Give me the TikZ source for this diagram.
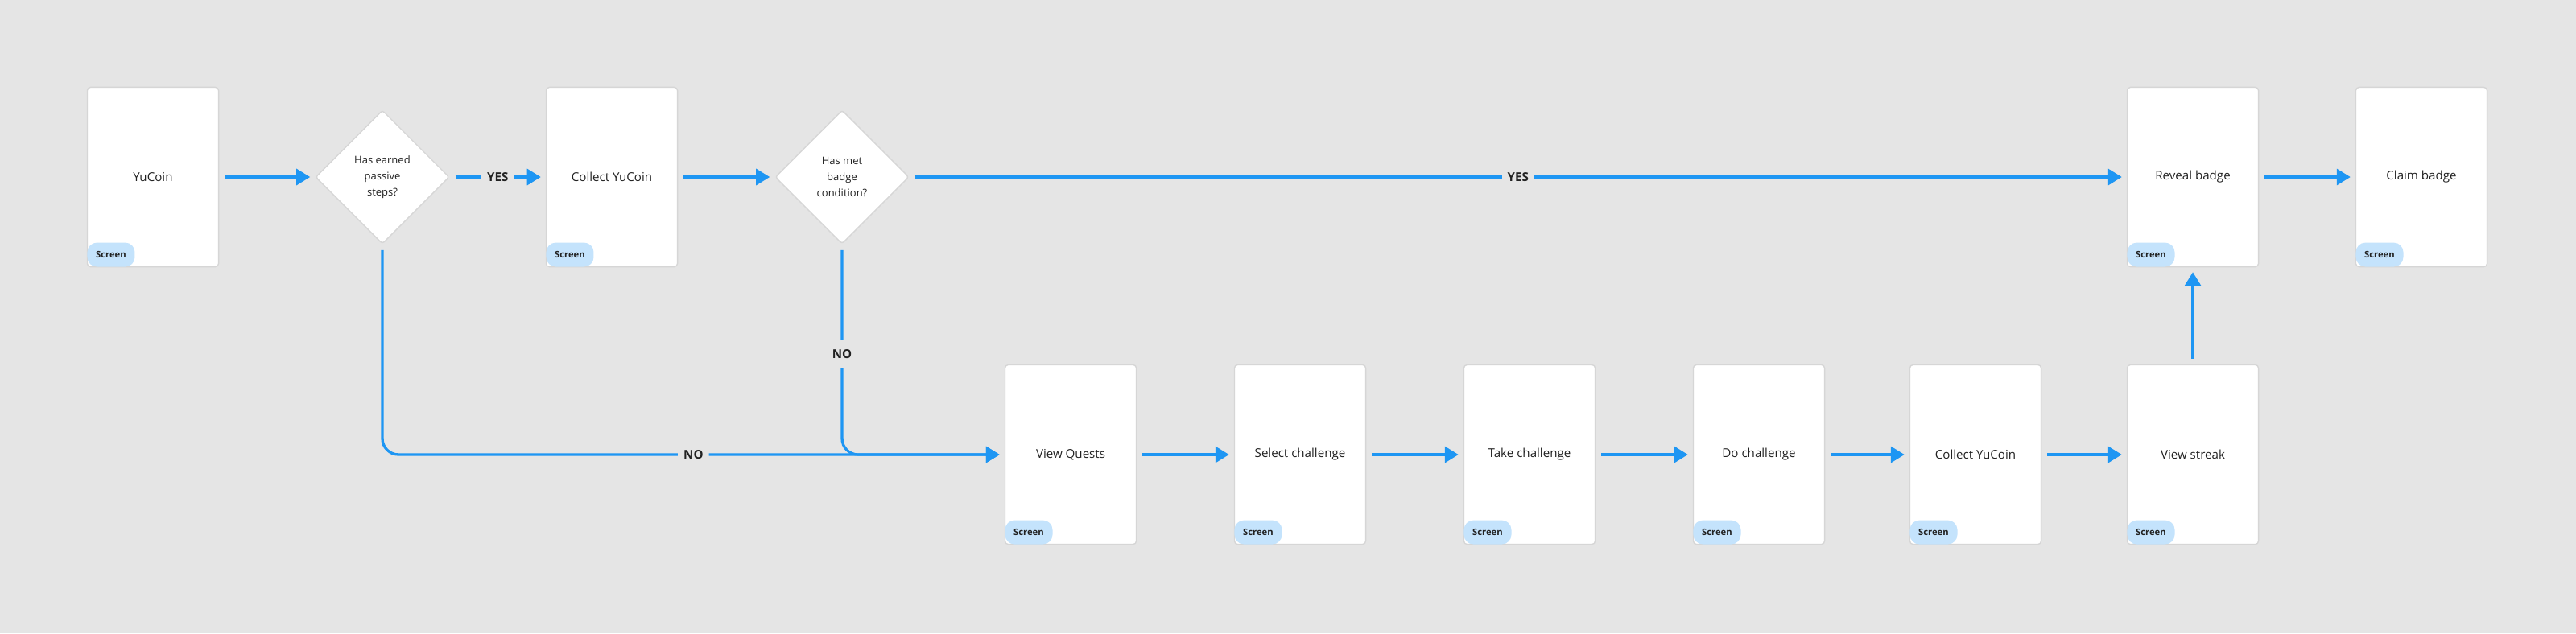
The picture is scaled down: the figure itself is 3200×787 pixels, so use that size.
\documentclass[tikz,border=0pt]{standalone}
\usepackage{fontspec}
\setmainfont{Open Sans}
\usepackage{xcolor}
\usetikzlibrary{positioning, shapes.geometric, arrows.meta}
\definecolor{canvas}{HTML}{E5E5E5}
\definecolor{flow}{HTML}{1E96F3}
\definecolor{tag}{HTML}{C4E3FC}
\definecolor{edge}{HTML}{D6D6D6}
\definecolor{ink}{HTML}{222222}

\begin{document}
\begin{tikzpicture}[x=0.01cm, y=-0.01cm,
          screen/.style={rectangle, draw=edge, fill=white, rounded corners=0.04cm, minimum width=1.63cm, minimum height=2.23cm, text=ink, font=\fontsize{4.3}{5.2}\selectfont},
          choice/.style={diamond, draw=edge, fill=white, rounded corners=0.03cm, minimum width=1.66cm, minimum height=1.66cm, inner sep=0pt, align=center, text=ink, font=\fontsize{3.7}{5.7}\selectfont},
          tagbox/.style={rectangle, fill=tag, rounded corners=0.12cm, minimum width=0.59cm, minimum height=0.3cm, inner sep=0pt, anchor=south west, text=ink, font=\fontsize{3.2}{3.8}\selectfont\bfseries},
          link/.style={flow, line width=0.033cm, -{Triangle[length=0.17cm, width=0.2cm]}, shorten <=0.07cm, shorten >=0.06cm},
          lbl/.style={fill=canvas, inner xsep=0.07cm, inner ysep=0.12cm, text=ink, font=\fontsize{4.3}{5.2}\selectfont\bfseries}]
          \fill[canvas] (0,0) rectangle (3200,787);

          \node[screen] (yucoin) at (190,220) {YuCoin};
          \node[choice] (d1) at (475,220) {Has earned\\passive\\steps?};
          \node[screen] (collecta) at (760,220) {Collect YuCoin};
          \node[choice] (d2) at (1046,220) {Has met\\badge\\condition?};
          \node[screen] (reveal) at (2724,220) {Reveal badge};
          \node[screen] (claim) at (3008,220) {Claim badge};

          \node[screen] (quests) at (1330,565) {View Quests};
          \node[screen] (select) at (1615,565) {Select challenge};
          \node[screen] (take) at (1900,565) {Take challenge};
          \node[screen] (dochal) at (2185,565) {Do challenge};
          \node[screen] (collectb) at (2454,565) {Collect YuCoin};
          \node[screen] (streak) at (2724,565) {View streak};

          \foreach \s in {yucoin, collecta, reveal, claim, quests, select, take, dochal, collectb, streak}
            \node[tagbox] (tag-\s) at (\s.south west) {Screen};

          \draw[link] (yucoin) -- (d1);
          \draw[link] (d1) -- (collecta) node[midway, lbl] {YES};
          \draw[link] (collecta) -- (d2);
          \draw[link] (d2) -- (reveal) node[midway, lbl] {YES};
          \draw[link] (reveal) -- (claim);
          \draw[link] (streak) -- (reveal);

          \draw[link, rounded corners=0.2cm] (d1.south) |- (quests.west) node[pos=0.75, lbl] {NO};
          \draw[link, rounded corners=0.2cm] (d2.south) |- (quests.west) node[pos=0.26, lbl] {NO};

          \draw[link] (quests) -- (select);
          \draw[link] (select) -- (take);
          \draw[link] (take) -- (dochal);
          \draw[link] (dochal) -- (collectb);
          \draw[link] (collectb) -- (streak);
        \end{tikzpicture}
\end{document}
